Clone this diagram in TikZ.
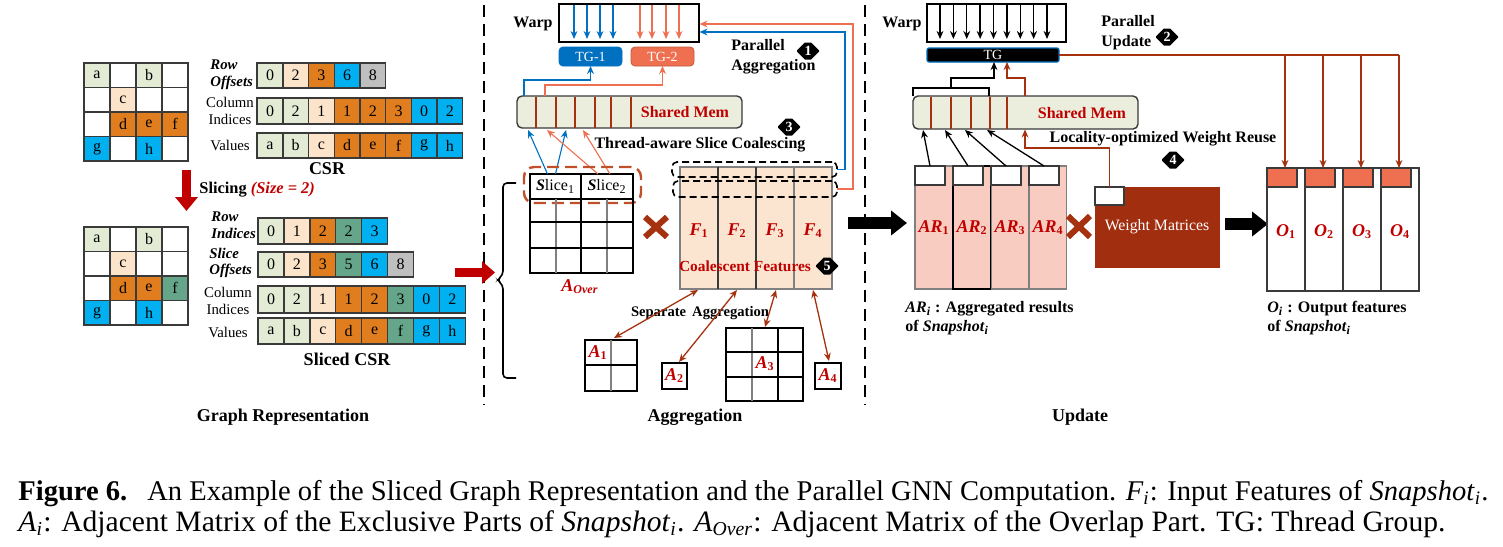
\documentclass[tikz,border=0pt]{standalone}
\usepackage{fontspec}
\usepackage{graphicx}
\setmainfont{Liberation Serif}
\usetikzlibrary{arrows.meta,shapes.geometric,shapes.misc,calc}
\definecolor{lg}{HTML}{E3EBD5}
\definecolor{pc}{HTML}{FCE4CB}
\definecolor{orng}{HTML}{E07D1F}
\definecolor{cyn}{HTML}{00B0F0}
\definecolor{gry}{HTML}{BFBFBF}
\definecolor{tl}{HTML}{65A68A}
\definecolor{bd}{HTML}{3A3A3A}
\definecolor{dred}{HTML}{C00000}
\definecolor{brn}{HTML}{A5310F}
\definecolor{wred}{HTML}{A22E10}
\definecolor{slm}{HTML}{EF7050}
\definecolor{blu}{HTML}{0070C0}
\definecolor{pnk}{HTML}{F8CCC0}
\definecolor{fpc}{HTML}{FBE4D0}
\definecolor{smf}{HTML}{EBEEDC}
\definecolor{dsh}{HTML}{C0502A}
\newcommand{\bxn}[7][]{\node[inner sep=0pt, outer sep=0pt, minimum width={(#5-#3)*0.5pt}, minimum height={(#6-#4)*0.5pt}, #1] (#2) at ({(#3+#5)/2},{(#4+#6)/2}) {#7};}
\newcommand{\bsub}[2]{\textbf{\textit{#1}}\textsubscript{\textbf{#2}}}
\newcommand{\bisub}[2]{\textbf{\textit{#1}}\textsubscript{\textbf{\textit{#2}}}}
\newcommand{\isub}[2]{\textit{#1}\textsubscript{\textit{#2}}}
\tikzset{
  lbl/.style={inner sep=0pt, font=\fontsize{8}{10}\selectfont\bfseries},
  big/.style={inner sep=0pt, font=\fontsize{9}{10}\selectfont\bfseries},
  side/.style={inner sep=0pt, align=center, font=\fontsize{7.4}{8.3}\selectfont},
  sidebi/.style={inner sep=0pt, align=left, font=\fontsize{7.4}{8.3}\selectfont\bfseries\itshape},
  cell/.style={draw=bd, line width=0.7pt, inner sep=0pt, font=\fontsize{8}{9}\selectfont},
  arr/.style={line width=0.65pt, -{Stealth[length=4pt,width=3.4pt]}},
  darr/.style={line width=0.65pt, {Stealth[length=4pt,width=3.4pt]}-{Stealth[length=4pt,width=3.4pt]}},
  badge/.style={chamfered rectangle, chamfered rectangle xsep=2.2pt, chamfered rectangle ysep=2.2pt, fill=black, text=white, inner sep=0pt, minimum width=11pt, minimum height=8.5pt, font=\fontsize{7}{8}\selectfont\bfseries},
  rtxt/.style={inner sep=0pt, text=dred, font=\fontsize{8}{9}\selectfont\bfseries},
  rlab/.style={inner sep=0pt, text=dred, font=\fontsize{9}{10}\selectfont\bfseries},
  shmem/.style={fill=smf, draw=bd, line width=0.7pt, rounded corners=2.5pt},
  dbox/.style={draw=black, line width=0.8pt, dash pattern=on 3.5pt off 2pt, rounded corners=2.5pt},
  sepline/.style={line width=1pt, dash pattern=on 6pt off 3.5pt},
  thickarrow/.style={-{Triangle[length=8pt,width=12pt]}},
  captxt/.style={inner sep=0pt, font=\fontsize{12}{14}\selectfont},
}
\begin{document}
\begin{tikzpicture}[x=0.5pt,y=-0.5pt]
\useasboundingbox (0,0) rectangle (1503,546);
\fill[white] (0,0) rectangle (1503,546);

%================ Graph representation ================
\foreach \r in {0,...,3}{\foreach \c in {0,...,3}{
  \node[cell, minimum width=13pt, minimum height=12.25pt] (ta\r\c) at ({97+26*\c},{75.25+24.5*\r}) {};}}
\foreach \r/\c/\f/\t in {0/0/lg/a,0/2/lg/b,1/1/pc/c,2/1/orng/d,2/2/orng/e,2/3/orng/f,3/0/cyn/g,3/2/cyn/h}
  \node[cell, fill=\f, minimum width=13pt, minimum height=12.25pt] (tf\r\c) at ({97+26*\c},{75.25+24.5*\r}) {\t};

\foreach \r in {0,...,3}{\foreach \c in {0,...,3}{
  \node[cell, minimum width=13pt, minimum height=12.25pt] (ba\r\c) at ({97+26*\c},{239.25+24.5*\r}) {};}}
\foreach \r/\c/\f/\t in {0/0/lg/a,0/2/lg/b,1/1/pc/c,2/1/orng/d,2/2/orng/e,2/3/tl/f,3/0/cyn/g,3/2/cyn/h}
  \node[cell, fill=\f, minimum width=13pt, minimum height=12.25pt] (bf\r\c) at ({97+26*\c},{239.25+24.5*\r}) {\t};

% CSR
\foreach \v/\f [count=\i from 0] in {0/lg,2/pc,3/orng,6/cyn,8/gry}
  \node[cell, fill=\f, minimum width=12.85pt, minimum height=12.5pt] (ro\i) at ({270+25.7*\i},75.5) {\v};
\foreach \v/\f [count=\i from 0] in {0/lg,2/lg,1/pc,1/orng,2/orng,3/orng,0/cyn,2/cyn}
  \node[cell, fill=\f, minimum width=12.85pt, minimum height=13pt] (ci\i) at ({270+25.7*\i},111) {\v};
\foreach \v/\f [count=\i from 0] in {a/lg,b/lg,c/pc,d/orng,e/orng,f/orng,g/cyn,h/cyn}
  \node[cell, fill=\f, minimum width=12.85pt, minimum height=12.5pt] (va\i) at ({270+25.7*\i},145.5) {\v};

% Sliced CSR
\foreach \v/\f [count=\i from 0] in {0/lg,1/pc,2/orng,2/tl,3/cyn}
  \node[cell, fill=\f, minimum width=12.95pt, minimum height=13pt] (sri\i) at ({271+25.9*\i},231) {\v};
\foreach \v/\f [count=\i from 0] in {0/lg,2/pc,3/orng,5/tl,6/cyn,8/gry}
  \node[cell, fill=\f, minimum width=12.95pt, minimum height=12.5pt] (sso\i) at ({271+25.9*\i},264.5) {\v};
\foreach \v/\f [count=\i from 0] in {0/lg,2/lg,1/pc,1/orng,2/orng,3/tl,0/cyn,2/cyn}
  \node[cell, fill=\f, minimum width=12.95pt, minimum height=13.5pt] (sci\i) at ({271+25.9*\i},299.5) {\v};
\foreach \v/\f [count=\i from 0] in {a/lg,b/lg,c/pc,d/orng,e/orng,f/tl,g/cyn,h/cyn}
  \node[cell, fill=\f, minimum width=12.95pt, minimum height=13pt] (sva\i) at ({271+25.9*\i},331) {\v};

\node[sidebi, anchor=west] (lro) at (210,75) {Row\\Offsets};
\node[side] (lci) at (230,111) {Column\\Indices};
\node[side] (lva) at (230,145.5) {Values};
\node[big] (csr) at (327,169) {CSR};
\node[sidebi, anchor=west] (lri) at (211,225.5) {Row\\Indices};
\node[sidebi, anchor=west] (lso) at (209,263) {Slice\\Offsets};
\node[side] (lsci) at (228,301) {Column\\Indices};
\node[side] (lsva) at (228,332) {Values};
\node[big] (scsr) at (347,359) {Sliced CSR};
\node[big] (grt) at (283,417) {Graph Representation};

\coordinate (sla) at (186.5,170);
\coordinate (slb) at (186.5,211);
\draw[dred, line width=4.5pt, -{Triangle[length=7pt,width=11pt]}] (sla) -- (slb);
\node[inner sep=0pt, anchor=west, font=\fontsize{8.2}{9}\selectfont\bfseries] (slt) at (199,190) {Slicing \textcolor{dred}{\itshape(Size = 2)}};

% separators
\coordinate (s1t) at (484,5); \coordinate (s1b) at (484,405);
\coordinate (s2t) at (865,5); \coordinate (s2b) at (865,405);
\draw[sepline] (s1t) -- (s1b);
\draw[sepline] (s2t) -- (s2b);

\coordinate (raa) at (455,272.5);
\coordinate (rab) at (495,272.5);
\draw[dred, line width=4.5pt, -{Triangle[length=6.5pt,width=11pt]}] (raa) -- (rab);
\draw[line width=0.8pt, rounded corners=2pt] (516,183) -- (503,183) -- (503,275) -- (497,280) -- (503,285) -- (503,378) -- (516,378);

%================ Aggregation ================
\node[lbl] (warpAl) at (533,24) {Warp};
\bxn[draw, line width=0.7pt]{warpA}{559}{4}{699}{42}{}
\foreach \x in {574,587,600,613} \draw[arr, blu] (\x,4.5) -- (\x,39);
\foreach \x in {640,652,666,679} \draw[arr, slm] (\x,4.5) -- (\x,39);
\bxn[rounded corners=2pt, fill=blu, draw=blu, text=white, font=\fontsize{7}{8}\selectfont]{tg1}{559}{47}{622}{66}{TG-1}
\bxn[rounded corners=2pt, fill=slm, draw=slm!80!black, text=white, font=\fontsize{7}{8}\selectfont]{tg2}{631}{47}{694}{66}{TG-2}
\node[lbl, align=left, anchor=west] (pagg) at (731,57) {Parallel\\Aggregation};
\node[badge] (b1) at (808,51) {1};

\bxn[shmem]{smA}{517}{96}{742}{128}{}
\foreach \x in {536,556,575,595,611,631} \draw[brn, line width=0.7pt] (\x,96.5) -- (\x,127.5);
\node[rtxt] (smAt) at (685,112) {Shared Mem};
\draw[arr, blu] (524,96) -- (524,80) -- (590.5,80) -- (tg1.south);
\draw[arr, slm] (545,96) -- (545,85) -- (662.5,85) -- (tg2.south);
\node[badge] (b3) at (789,127) {3};
\node[lbl] (tasc) at (700,145) {Thread-aware Slice Coalescing};

\bxn[draw, line width=0.7pt, font=\fontsize{8}{9}\selectfont]{sl1}{530}{174}{581}{199}{\textbf{\textit{S}}lice\textsubscript{1}}
\bxn[draw, line width=0.7pt, font=\fontsize{8}{9}\selectfont]{sl2}{581}{174}{633}{199}{\textbf{\textit{S}}lice\textsubscript{2}}
\draw[arr, blu, line width=0.55pt] ([xshift=-4pt]sl1.north) -- (528,130);
\draw[arr, blu, line width=0.55pt] (sl1.north) -- (566,130);
\draw[arr, slm, line width=0.55pt] ([xshift=-4.5pt]sl2.north) -- (547,130);
\draw[arr, slm, line width=0.55pt] ([xshift=1.5pt]sl2.north) -- (583,130);
\bxn[draw=dsh, line width=1.2pt, dash pattern=on 6pt off 3pt, rounded corners=5pt]{slbox}{524}{167}{641}{203}{}

\bxn[draw, line width=0.7pt]{aov}{530}{199}{633}{273}{}
\draw[gray, line width=0.7pt] (556,199) -- (556,273) (607,199) -- (607,273);
\draw[black, line width=0.7pt] (581,199) -- (581,273) (530,222) -- (633,222) (530,248) -- (633,248);
\node[rlab] (aovl) at (580,287) {\bisub{A}{Over}};

\draw[brn, line width=3pt] (645,217) -- (667,237) (645,237) -- (667,217);

\bxn[fill=fpc, draw=gray, line width=0.7pt]{feat}{680}{167}{832}{289}{}
\draw[bd, line width=0.7pt] (718,167) -- (718,289) (756,167) -- (756,289);
\draw[gray, line width=0.7pt] (794,167) -- (794,289);
\foreach \i/\x in {1/699,2/737,3/775,4/813} \node[rlab] (F\i) at (\x,231) {\bsub{F}{\i}};
\node[rtxt, font=\fontsize{7.7}{9}\selectfont\bfseries] (cf) at (745,266) {Coalescent Features};
\node[badge] (b5) at (827,266) {5};
\bxn[dbox]{dbA}{672}{162}{837}{177}{}
\bxn[dbox]{dbB}{673}{181}{837}{197}{}
\draw[arr, blu] (dbA.east) -- (845,169.5) -- (845,32) -- (699.5,32);
\draw[arr, slm] (dbB.east) -- (853,189) -- (853,24) -- (699.5,24);

% A_i
\bxn[draw, line width=0.7pt]{a1}{585}{340}{637}{391}{}
\draw[gray, line width=0.7pt] (611,340) -- (611,391);
\draw[line width=0.7pt] (585,365) -- (637,365);
\node[rlab] (a1l) at (598,353) {\bsub{A}{1}};
\bxn[draw, line width=0.7pt, rlab]{a2}{662}{363}{687}{389}{\bsub{A}{2}}
\bxn[draw, line width=0.7pt]{a3}{726}{328}{803}{401}{}
\draw[gray, line width=0.7pt] (752,328) -- (752,401);
\draw[line width=0.7pt] (778,328) -- (778,401) (726,352) -- (803,352) (726,377) -- (803,377);
\node[rlab] (a3l) at (765,364) {\bsub{A}{3}};
\bxn[draw, line width=0.7pt, rlab]{a4}{815}{363}{841}{389}{\bsub{A}{4}}
\node[inner sep=0pt, font=\fontsize{7.3}{8}\selectfont\bfseries] (sepagg) at (700,313) {Separate\, Aggregation};
\draw[darr, brn] (698,290) -- (614,338);
\draw[darr, brn] (737,290) -- (679,362);
\draw[darr, brn] (776,290) -- (765,327);
\draw[darr, brn] (813,290) -- (829,361);
\node[big] (aggt) at (695,417) {Aggregation};

\coordinate (bk1a) at (848,223); \coordinate (bk1b) at (907,223);
\draw[line width=6pt, thickarrow] (bk1a) -- (bk1b);

%================ Update ================
\node[lbl] (warpBl) at (902,24) {Warp};
\bxn[draw, line width=0.7pt]{warpB}{927}{4}{1066}{42}{}
\foreach \k in {0,...,8} \draw[arr] ({940+13.375*\k},4.5) -- ({940+13.375*\k},39);
\bxn[fill=black, draw=blu, line width=0.6pt, rounded corners=1pt, text=white, font=\fontsize{7}{8}\selectfont]{tg}{927}{48}{1059}{62}{TG}
\node[lbl, align=left, anchor=west] (pupd) at (1101,33) {Parallel\\Update};
\node[badge] (b2) at (1167,37) {2};

\bxn[shmem]{smB}{913}{96}{1138}{129}{}
\foreach \x in {931,951,971,990,1007} \draw[brn, line width=0.7pt] (\x,96.5) -- (\x,128.5);
\node[rtxt] (smBt) at (1082,113) {Shared Mem};
\draw[line width=0.65pt] (913,96) -- (913,88) -- (989,88) -- (989,96);
\draw[arr] (951,88) -- (951,78) -- (994,78) -- (994,62);
\draw[arr, brn] (1025,96) -- (1025,78) -- (1007,78) -- (1007,62);

\foreach \i/\xl in {1/915,2/953,3/991,4/1029}{
  \bxn[fill=pnk, draw=gray, line width=0.7pt]{ar\i}{\xl}{166}{\xl+37.5}{289}{}
}
\draw[black, line width=0.7pt] (953,166) rectangle (990.5,289);
\foreach \i/\xl in {1/915,2/953,3/991,4/1029}{
  \bxn[fill=white, draw=bd, line width=0.6pt]{arh\i}{\xl}{166}{\xl+30}{185}{}
  \node[rlab] (arl\i) at ({\xl+19},228) {\bsub{AR}{\i}};
}
\foreach \i/\tx in {1/923,2/945,3/965,4/987} \draw[arr] (arh\i.north) -- (\tx,130);

\draw[brn, line width=3pt] (1068,216) -- (1090,237) (1068,237) -- (1090,216);

\bxn[fill=wred, draw=wred, text=white, font=\fontsize{7.9}{9}\selectfont]{wm}{1095}{187}{1219}{267}{Weight Matrices}
\bxn[fill=white, draw=bd, line width=0.6pt]{wmh}{1095}{187}{1124}{205}{}
\draw[arr, brn] (wmh.north) -- (1109.5,148) -- (1025,148) -- (1025,129.5);
\node[lbl] (lowr) at (1163,139) {Locality-optimized Weight Reuse};
\node[badge] (b4) at (1173,160) {4};

\coordinate (bk2a) at (1225,224); \coordinate (bk2b) at (1268,224);
\draw[line width=6pt, thickarrow] (bk2a) -- (bk2b);

\foreach \i/\xl in {1/1267,2/1305,3/1343,4/1381}{
  \bxn[fill=white, draw=bd, line width=0.7pt]{oc\i}{\xl}{168}{\xl+38}{291}{}
}
\foreach \i/\xl in {1/1267,2/1305,3/1343,4/1381}{
  \bxn[fill=slm, draw=bd, line width=0.6pt]{oh\i}{\xl}{168}{\xl+30}{187}{}
  \node[rlab] (ol\i) at ({\xl+19},232) {\bsub{O}{\i}};
}
\draw[brn, line width=0.7pt] (tg.east) -- ([xshift=1.5pt]oh4.north |- tg.east);
\foreach \i in {1,...,4} \draw[arr, brn] ([xshift=1.5pt]oh\i.north |- tg.east) -- ([xshift=1.5pt]oh\i.north);

\node[lbl, anchor=west] (arit) at (905,309) {\bisub{AR}{i} : Aggregated results};
\node[lbl, anchor=west] (arit2) at (905,328) {of \bisub{Snapshot}{i}};
\node[lbl, anchor=west] (oit) at (1267,309) {\bisub{O}{i} : Output features};
\node[lbl, anchor=west] (oit2) at (1267,328) {of \bisub{Snapshot}{i}};
\node[big] (updt) at (1080,417) {Update};

%================ Caption ================
\node[captxt, anchor=base west] (capA) at (18,500) {\resizebox{735pt}{!}{\textbf{Figure 6.}\hspace{0.7em}An Example of the Sliced Graph Representation and the Parallel GNN Computation. \isub{F}{i}: Input Features of \isub{Snapshot}{i}.}};
\node[captxt, anchor=base west] (capB) at (18,531) {\resizebox{713.5pt}{!}{\isub{A}{i}: Adjacent Matrix of the Exclusive Parts of \isub{Snapshot}{i}. \isub{A}{Over}: Adjacent Matrix of the Overlap Part. TG: Thread Group.}};
\end{tikzpicture}
\end{document}
